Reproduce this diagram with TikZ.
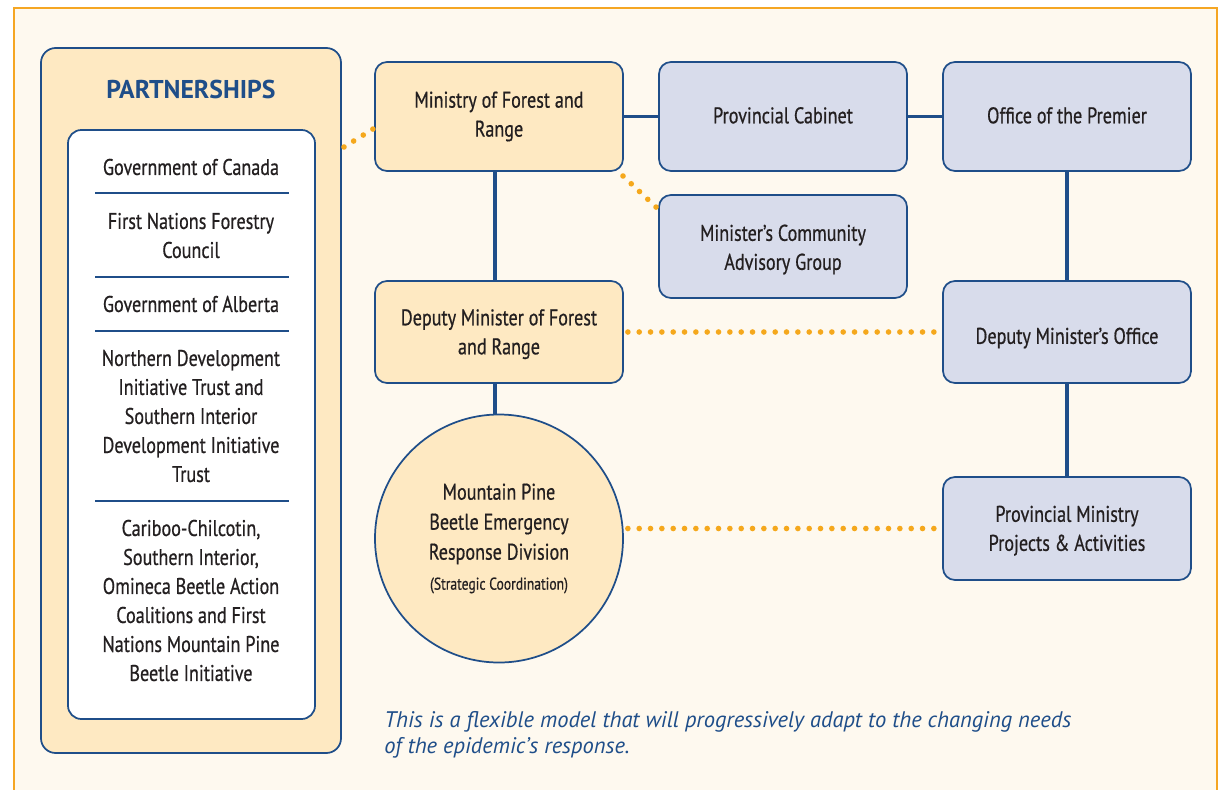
\documentclass[tikz,border=0pt]{standalone}
\usepackage{fontspec}
\setmainfont{PT Sans}[FakeStretch=0.8,FakeBold=0.6]
\newfontfamily\notefont{PT Sans}
\definecolor{frameorange}{HTML}{F5A623}
\definecolor{framefill}{HTML}{FEF9EF}
\definecolor{creamfill}{HTML}{FEE9C2}
\definecolor{lavfill}{HTML}{D8DCEB}
\definecolor{navy}{HTML}{1F4E89}
\definecolor{inktext}{HTML}{231F20}
\definecolor{dotorange}{HTML}{F5A81C}
\newcommand{\lowerby}[2]{\raisebox{-#1}[\height][\depth]{\begin{tabular}{@{}c@{}}#2\end{tabular}}}
\tikzset{
  box/.style={draw=navy, line width=1.3pt, rounded corners=9pt, minimum width=186pt, inner sep=0pt, align=center, text=inktext, font=\fontsize{17}{21.75}\selectfont},
  orgbox/.style={box, fill=creamfill},
  lavbox/.style={box, fill=lavfill},
  solidlink/.style={draw=navy, line width=2.6pt},
  dotlink/.style={draw=dotorange, line width=4.2pt, line cap=round, dash pattern=on 0pt off 8.5pt},
  ptext/.style={align=center, text=inktext, font=\fontsize{17}{21.75}\selectfont, inner sep=0pt},
  sepline/.style={draw=navy, line width=1.2pt}
}
\begin{document}
\begin{tikzpicture}[x=0.75pt,y=-0.75pt]
\useasboundingbox (0,0) rectangle (1220,789);
\clip (0,0) rectangle (1220,789);
\fill[white] (0,0) rectangle (1220,789);
\draw[draw=frameorange, fill=framefill, line width=2pt] (14,8) rectangle (1217,810);

% partnerships
\node[draw=navy, fill=creamfill, line width=1.3pt, rounded corners=11pt, minimum width=225pt, minimum height=528.75pt, inner sep=0pt] (partners) at (191,400.5) {};
\node[text=navy, font=\notefont\bfseries\fontsize{19.3}{22}\selectfont, inner sep=0pt] (ptitle) at (191,89) {PARTNERSHIPS};
\node[draw=navy, fill=white, line width=1.3pt, rounded corners=10pt, minimum width=185.25pt, minimum height=441.75pt, inner sep=0pt] (plist) at (191.5,424.5) {};
\node[ptext] (p1) at (191,167) {Government of Canada};
\node[ptext] (p2) at (191,235.5) {First Nations Forestry\\Council};
\node[ptext] (p3) at (191,304) {Government of Alberta};
\node[ptext] (p4) at (191,416) {Northern Development\\Initiative Trust and\\Southern Interior\\Development Initiative\\Trust};
\node[ptext] (p5) at (191,600.5) {Cariboo-Chilcotin,\\Southern Interior,\\Omineca Beetle Action\\Coalitions and First\\Nations Mountain Pine\\Beetle Initiative};
\draw[sepline] (95,193) -- (289,193);
\draw[sepline] (95,277) -- (289,277);
\draw[sepline] (95,331) -- (289,331);
\draw[sepline] (95,501) -- (289,501);

% boxes
\node[orgbox, minimum height=81.75pt] (ministry) at (499,116.5) {Ministry of Forest and\\Range};
\node[lavbox, minimum height=81.75pt] (cabinet) at (783,116.5) {\lowerby{0.75pt}{Provincial Cabinet}};
\node[lavbox, minimum height=81.75pt] (premier) at (1067,116.5) {\lowerby{0.75pt}{Office of the Premier}};
\node[lavbox, minimum height=77.25pt] (advisory) at (783,246.5) {\lowerby{2.25pt}{Minister's Community\\Advisory Group}};
\node[orgbox, minimum height=76.5pt] (deputy) at (499,332) {\lowerby{1.5pt}{Deputy Minister of Forest\\and Range}};
\node[lavbox, minimum height=76.5pt] (dmo) at (1067,332) {\lowerby{4.5pt}{Deputy Minister's Office}};
\node[lavbox, minimum height=77.25pt] (projects) at (1067,528.5) {\lowerby{1.5pt}{Provincial Ministry\\Projects \& Activities}};
\node[circle, draw=navy, line width=1.3pt, fill=creamfill, minimum size=186pt, inner sep=0pt, align=center, text=inktext, font=\fontsize{17}{22.5}\selectfont] (mpb) at (499,538.5) {Mountain Pine\\Beetle Emergency\\Response Division\\[0pt]{\fontsize{12.8}{15}\selectfont (Strategic Coordination)}};

% solid connectors
\draw[solidlink] (ministry.east) -- (cabinet.west);
\draw[solidlink] (cabinet.east) -- (premier.west);
\draw[solidlink] (ministry.south -| 495,0) -- (deputy.north -| 495,0);
\draw[solidlink] (deputy.south -| 495,0) -- (mpb.north -| 495,0);
\draw[solidlink] (premier.south) -- (dmo.north);
\draw[solidlink] (dmo.south) -- (projects.north);

% dotted connectors
\coordinate (pd) at (344,147);
\coordinate (md) at (373,129);
\draw[dotlink] (pd) -- (md);
\coordinate (ms) at (623,176);
\coordinate (as) at (657,208);
\draw[dotlink] (ms) -- (as);
\draw[dotlink] ([xshift=3pt]deputy.east) -- ([xshift=-3pt]dmo.west);
\draw[dotlink] ([xshift=3pt]mpb.east |- projects.west) -- ([xshift=-3pt]projects.west);

% note
\node[anchor=north west, align=left, text=navy, inner sep=0pt, font=\notefont\itshape\fontsize{16.9}{19.5}\selectfont] (note) at (384,711) {This is a flexible model that will progressively adapt to the changing needs\\of the epidemic’s response.};
\end{tikzpicture}
\end{document}
